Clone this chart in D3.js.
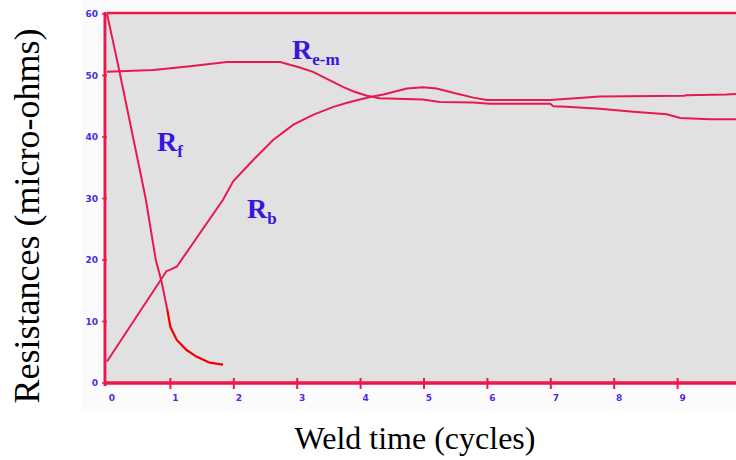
<!DOCTYPE html>
<html>
<head>
<meta charset="utf-8">
<script src="https://cdn.jsdelivr.net/npm/d3@7"></script>
<style>
  body { margin: 0; background: #fff; }
  .tick-label { font: bold 9px "DejaVu Sans", sans-serif; fill: #4a2be2; }
  .axis-title { font-family: "Liberation Serif", "Times New Roman", serif; fill: #000; }
  .curve-label { font-family: "Liberation Serif", "Times New Roman", serif; font-weight: bold; fill: #3a16dc; }
</style>
</head>
<body>
<div class="container"></div>
<script>
// readings, [cycles, micro-ohms]
let rfData = [[0,60],[0.1,55.3],[0.2,50.5],[0.41,40],[0.61,30],[0.77,20],[0.86,16.5],[0.95,12]];
let rfTail = [[0.95,12],[1.0,9.1],[1.1,7.0],[1.25,5.4],[1.41,4.3],[1.62,3.3],[1.83,3.0]];
let rbData = [[0,3.5],[0.94,18.2],[0.99,18.4],[1.1,18.9],[1.83,29.8],[1.99,32.8],[2.31,36.3],[2.62,39.5],
  [2.94,42],[3.25,43.6],[3.57,44.9],[3.83,45.7],[4.15,46.5],[4.36,46.9],[4.73,47.9],[4.98,48.1],
  [5.2,47.9],[5.46,47.2],[5.78,46.4],[5.99,46.0],[6.99,46.0],[7.5,46.4],[7.77,46.6],[9.1,46.7],
  [9.14,46.8],[9.77,46.9],[9.95,47.0]];
let remData = [[0,50.6],[0.73,50.9],[1.31,51.5],[1.89,52.2],[2.73,52.2],[3.04,51.3],[3.25,50.6],
  [3.46,49.5],[3.73,48.1],[3.89,47.4],[4.1,46.7],[4.3,46.3],[4.98,46.1],[5.25,45.7],[5.78,45.6],
  [6.04,45.4],[6.99,45.4],[7.04,45.0],[7.25,44.9],[7.77,44.6],[8.3,44.1],[8.83,43.7],[9.04,43.1],
  [9.51,42.9],[9.95,42.9]];
let xTicks = [0,1,2,3,4,5,6,7,8,9];
let yTicks = [0,10,20,30,40,50,60];

let width = 736, height = 460;
let red = "#e8194f";

let svg = d3.select(".container").append("svg")
    .attr("width", width)
    .attr("height", height);

let x = d3.scaleLinear().domain([0, 10]).range([107, 741]);
let y = d3.scaleLinear().domain([0, 60]).range([383, 14]);

// faint panel + grey plot area
svg.append("rect")
    .attr("x", 82).attr("y", 0)
    .attr("width", width - 82).attr("height", 410)
    .style("fill", "#fbfbfb");
svg.append("rect")
    .attr("x", x(0)).attr("y", y(60))
    .attr("width", width - x(0)).attr("height", y(0) - y(60))
    .style("fill", "#e1e1e1");

let line = d3.line()
    .x(d => x(d[0]))
    .y(d => y(d[1]));

let curves = svg.append("g").style("fill", "none");
curves.append("path").attr("d", line(remData)).style("stroke", red).style("stroke-width", 2);
curves.append("path").attr("d", line(rbData)).style("stroke", red).style("stroke-width", 2);
curves.append("path").attr("d", line(rfData)).style("stroke", red).style("stroke-width", 2);
curves.append("path").attr("d", line(rfTail)).style("stroke", "#ee0000").style("stroke-width", 2.2);

// frame: top border, left and bottom axes
svg.append("line")
    .attr("x1", x(0)).attr("x2", width)
    .attr("y1", y(60) - 1).attr("y2", y(60) - 1)
    .style("stroke", red).style("stroke-width", 2.5);
svg.append("line")
    .attr("x1", x(0) - 2).attr("x2", x(0) - 2)
    .attr("y1", y(60) - 2).attr("y2", y(0) + 3)
    .style("stroke", red).style("stroke-width", 3);
svg.append("line")
    .attr("x1", x(0) - 3).attr("x2", width)
    .attr("y1", y(0)).attr("y2", y(0))
    .style("stroke", red).style("stroke-width", 3.5);

svg.append("g").selectAll("line")
  .data(xTicks.slice(1))
  .enter().append("line")
    .attr("x1", d => x(d)).attr("x2", d => x(d))
    .attr("y1", y(0) - 5).attr("y2", y(0) + 6)
    .style("stroke", red).style("stroke-width", 2);

svg.append("g").selectAll("line")
  .data(yTicks)
  .enter().append("line")
    .attr("x1", x(0) - 5).attr("x2", x(0))
    .attr("y1", d => y(d)).attr("y2", d => y(d))
    .style("stroke", red).style("stroke-width", 1.5);

svg.append("g").selectAll("text")
  .data(xTicks)
  .enter().append("text")
    .attr("class", "tick-label")
    .attr("text-anchor", "middle")
    .attr("x", d => x(d) + 5)
    .attr("y", 401)
    .text(d => d);

svg.append("g").selectAll("text")
  .data(yTicks)
  .enter().append("text")
    .attr("class", "tick-label")
    .attr("text-anchor", "end")
    .attr("x", 98)
    .attr("y", d => y(d) + 3)
    .text(d => d);

// axis titles
svg.append("text")
    .attr("class", "axis-title")
    .attr("text-anchor", "middle")
    .attr("x", 415).attr("y", 449)
    .style("font-size", "32px")
    .text("Weld time (cycles)");
svg.append("text")
    .attr("class", "axis-title")
    .attr("text-anchor", "middle")
    .attr("transform", "translate(39,216) rotate(-90)")
    .style("font-size", "36px")
    .text("Resistances (micro-ohms)");

// curve labels
let addLabel = (px, py, sub) => {
  let t = svg.append("text").attr("class", "curve-label").attr("x", px).attr("y", py);
  t.append("tspan").style("font-size", "28px").text("R");
  t.append("tspan").style("font-size", "17px").attr("dy", 6).text(sub);
};
addLabel(292, 59, "e-m");
addLabel(157, 151, "f");
addLabel(247, 218, "b");
</script>
</body>
</html>
